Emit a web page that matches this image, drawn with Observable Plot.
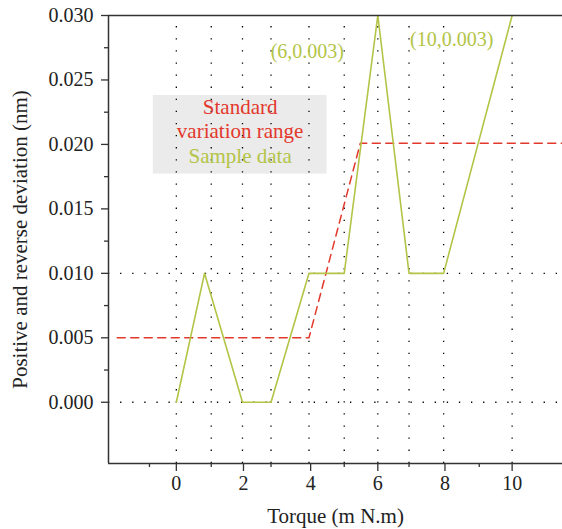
<!DOCTYPE html>
<html>
<head>
<meta charset="utf-8">
<script src="https://cdn.jsdelivr.net/npm/d3@7"></script>
<script src="https://cdn.jsdelivr.net/npm/@observablehq/plot@0.6"></script>
<style>
  html, body { margin: 0; padding: 0; background: #fff; }
  #chart svg { display: block; }
</style>
</head>
<body>
<div id="chart"></div>
<script>
// Sample data (green line)
const torque = [0, 0.84, 1.97, 2.82, 3.95, 5.0, 6.0, 6.93, 7.96, 10.0];
const deviation = [0, 0.010, 0, 0, 0.010, 0.010, 0.030, 0.010, 0.010, 0.030];
// Standard variation range (red dashed)
const rangeTorque = [-1.76, 3.95, 5.48, 11.5];
const rangeDeviation = [0.005, 0.005, 0.0201, 0.0201];
// Dotted grid lines
const gridTorque = [0, 1.04, 1.97, 2.82, 3.95, 5.0, 6.0, 6.93, 7.96, 10.0];
const gridDeviation = [0, 0.010];
// Ticks
const xMajorTicks = [0, 2, 4, 6, 8, 10];
const xMinorTicks = [-0.8, 1.04, 2.82, 5.0, 6.93, 9.02];
const yMajorTicks = [0, 0.005, 0.010, 0.015, 0.020, 0.025, 0.030];
const yMinorTicks = [0.0025, 0.0075, 0.0125, 0.0175, 0.0225, 0.0275];
// Texts
const legendLines = ["Standard", "variation range", "Sample data"];
const annotations = ["(6,0.003)", "(10,0.003)"];
const xTitle = "Torque (m N.m)";
const yTitle = "Positive and reverse deviation (nm)";

const sample = torque.map((t, i) => ({t, d: deviation[i]}));
const range = rangeTorque.map((t, i) => ({t, d: rangeDeviation[i]}));

const X0 = -2.02, X1 = 11.5, Y0 = -0.00475, Y1 = 0.030;
const GREEN = "#b3c447", RED = "#e3382c", AX = "#333";

const chart = Plot.plot({
  width: 562,
  height: 529,
  marginLeft: 108,
  marginRight: 0,
  marginTop: 15,
  marginBottom: 66,
  style: {fontFamily: "'Liberation Serif', serif", fontSize: "20px", color: "#222", background: "#fff"},
  x: {domain: [X0, X1]},
  y: {domain: [Y0, Y1]},
  marks: [
    // legend background
    Plot.rect([0], {x1: -0.685, x2: 4.49, y1: 0.0177, y2: 0.0238, fill: "#ebebeb"}),
    // dotted grid
    Plot.ruleX(gridTorque, {x: d => d, y1: Y0, y2: Y1, stroke: "#000", strokeWidth: 1.3, strokeDasharray: "1.3,10.8"}),
    Plot.ruleY(gridDeviation, {y: d => d, x1: X0, x2: X1, stroke: "#000", strokeWidth: 1.3, strokeDasharray: "1.3,10.8"}),
    // series
    Plot.line(range, {x: "t", y: "d", stroke: RED, strokeWidth: 1.5, strokeDasharray: "8,5.5"}),
    Plot.line(sample, {x: "t", y: "d", stroke: GREEN, strokeWidth: 1.6}),
    // frame lines
    Plot.ruleY([Y0, Y1], {stroke: AX, strokeWidth: 1.5}),
    Plot.ruleX([X0], {stroke: AX, strokeWidth: 1.5}),
    // axes
    Plot.axisX(xMajorTicks, {tickSize: 8, tickPadding: 4, stroke: AX, strokeWidth: 1.3, label: null, fontSize: 20, tickFormat: d => String(d)}),
    Plot.axisX(xMinorTicks, {tickSize: 4, stroke: AX, strokeWidth: 1.3, label: null, tickFormat: () => ""}),
    Plot.axisY(yMajorTicks, {tickSize: 7, tickPadding: 8, stroke: AX, strokeWidth: 1.3, label: null, fontSize: 20, tickFormat: d3.format(".3f")}),
    Plot.axisY(yMinorTicks, {tickSize: 4, stroke: AX, strokeWidth: 1.3, label: null, tickFormat: () => ""}),
    // legend text
    Plot.text([legendLines[0]], {x: 1.9, y: 0.02286, text: d => d, fill: RED, fontSize: 21}),
    Plot.text([legendLines[1]], {x: 1.9, y: 0.0210, text: d => d, fill: RED, fontSize: 21}),
    Plot.text([legendLines[2]], {x: 1.9, y: 0.01906, text: d => d, fill: GREEN, fontSize: 21}),
    // annotations
    Plot.text([annotations[0]], {x: 3.9, y: 0.0272, text: d => d, fill: GREEN, fontSize: 20}),
    Plot.text([annotations[1]], {x: 8.2, y: 0.0281, text: d => d, fill: GREEN, fontSize: 20}),
    // axis titles
    Plot.text([xTitle], {frameAnchor: "bottom", dy: 59, text: d => d, fontSize: 21, fill: "#222"}),
    Plot.text([yTitle], {frameAnchor: "left", textAnchor: "middle", dx: -88, rotate: -90, text: d => d, fontSize: 21, fill: "#222"})
  ]
});
document.getElementById("chart").appendChild(chart);
</script>
</body>
</html>
